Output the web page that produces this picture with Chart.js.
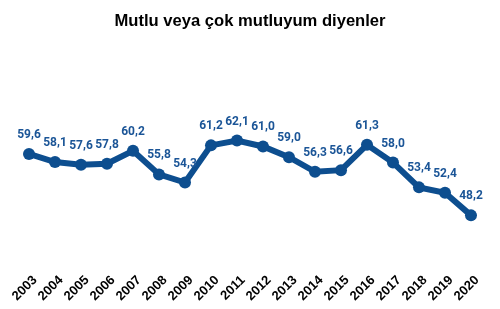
<!DOCTYPE html>
<html>
<head>
<meta charset="utf-8">
<script src="https://cdn.jsdelivr.net/npm/chart.js@4"></script>
<style>
  html, body { margin: 0; padding: 0; background: #fff; }
  #wrap { width: 500px; height: 309px; }
</style>
</head>
<body>
<div id="wrap"><canvas id="chart"></canvas></div>
<script>
const years = ['2003', '2004', '2005', '2006', '2007', '2008', '2009', '2010', '2011',
  '2012', '2013', '2014', '2015', '2016', '2017', '2018', '2019', '2020'];
const happy = [59.6, 58.1, 57.6, 57.8, 60.2, 55.8, 54.3, 61.2, 62.1,
  61.0, 59.0, 56.3, 56.6, 61.3, 58.0, 53.4, 52.4, 48.2];

const blue = '#0d4e8f';

// value labels above each point, comma as decimal separator
const valueLabels = {
  id: 'valueLabels',
  afterDatasetsDraw(chart) {
    const ctx = chart.ctx;
    const meta = chart.getDatasetMeta(0);
    ctx.save();
    ctx.fillStyle = '#1b5597';
    ctx.font = 'bold 12px Roboto, sans-serif';
    ctx.textAlign = 'center';
    ctx.textBaseline = 'middle';
    meta.data.forEach((pt, i) => {
      const txt = happy[i].toFixed(1).replace('.', ',');
      ctx.fillText(txt, pt.x, pt.y - 19);
    });
    ctx.restore();
  }
};

new Chart(document.getElementById('chart'), {
  type: 'line',
  data: {
    labels: years,
    datasets: [{
      data: happy,
      borderColor: blue,
      backgroundColor: blue,
      borderWidth: 6,
      pointRadius: 6,
      pointBackgroundColor: blue,
      pointBorderWidth: 0,
      tension: 0
    }]
  },
  options: {
    responsive: true,
    maintainAspectRatio: false,
    animation: false,
    layout: { padding: { left: 29, right: 29, top: 0, bottom: 0 } },
    plugins: {
      legend: { display: false },
      tooltip: { enabled: false },
      title: {
        display: true,
        text: 'Mutlu veya çok mutluyum diyenler',
        color: '#000',
        font: { family: 'Liberation Sans, Arial, sans-serif', size: 16.6, weight: 'bold' },
        padding: { top: 11, bottom: 10 }
      }
    },
    scales: {
      x: {
        grid: { display: false },
        border: { display: false },
        ticks: {
          color: '#000',
          maxRotation: 45,
          minRotation: 45,
          autoSkip: false,
          padding: 5,
          labelOffset: 6,
          font: { family: 'Liberation Sans, Arial, sans-serif', size: 13, weight: 'bold' }
        }
      },
      y: {
        display: false,
        min: 40,
        max: 80.6
      }
    }
  },
  plugins: [valueLabels]
});
</script>
</body>
</html>
